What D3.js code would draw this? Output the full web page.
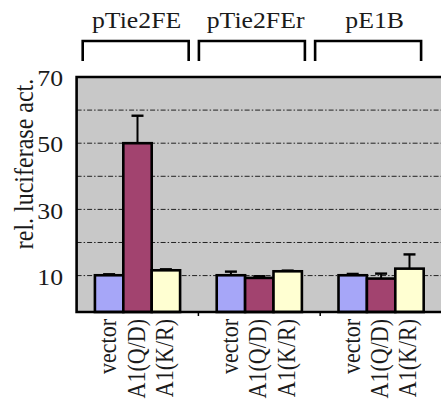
<!DOCTYPE html>
<html><head><meta charset="utf-8">
<script src="https://cdn.jsdelivr.net/npm/d3@7"></script>
<style>body{margin:0;background:#fff}svg{display:block}</style>
</head><body>
<script>
// ---- data ----
const groups = ["pTie2FE", "pTie2FEr", "pE1B"];
const conditions = ["vector", "A1(Q/D)", "A1(K/R)"];
const values = [[10.1, 50.0, 11.6], [10.1, 9.3, 11.3], [10.1, 9.1, 12.1]];
const errors = [[0.3, 8.3, 0.3], [1.1, 0.5, 0.2], [0.4, 1.5, 4.3]];
const yTicks = [10, 30, 50, 70];
const gridValues = [10, 20, 30, 40, 50, 60];
const colors = ["#a6a6f8", "#a2436f", "#ffffd2"];
const yTitle = "rel. luciferase act.";

// ---- layout ----
const W = 441, H = 414;
const plot = {left: 76.6, top: 77, right: 442, bottom: 312};
const SX = 1.12; // horizontal text stretch
const FONT = "'Liberation Serif', Tinos, 'Times New Roman', Times, serif";

const svg = d3.select("body").append("svg").attr("width", W).attr("height", H)
  .attr("font-family", FONT);

const x0 = d3.scaleBand().domain(groups).range([plot.left, plot.right]);
const x1 = d3.scaleBand().domain(conditions).range([0, x0.bandwidth()]).paddingOuter(0.645);
const y = d3.scaleLinear().domain([-1, 70]).range([plot.bottom, plot.top]);
const xb = d3.scaleBand().domain(groups).range([82.7, 421.1]).paddingInner(0.088);

function tx(x, yy, rot) { return `translate(${x},${yy}) scale(${SX},1)` + (rot ? ` rotate(${rot})` : ""); }

// background
svg.append("rect").attr("x", plot.left).attr("y", plot.top)
  .attr("width", plot.right - plot.left + 10).attr("height", plot.bottom - plot.top)
  .attr("fill", "#c8c8c8");

// gridlines
svg.append("g").selectAll("line").data(gridValues).join("line")
  .attr("x1", plot.left).attr("x2", W)
  .attr("y1", d => y(d)).attr("y2", d => y(d))
  .attr("stroke", "#222").attr("stroke-width", 1)
  .attr("stroke-dasharray", "5,2,1.5,2");

// bars
const gs = svg.append("g").selectAll("g").data(groups).join("g")
  .attr("transform", g => `translate(${x0(g)},0)`);
gs.selectAll("rect").data((g, gi) => conditions.map((c, ci) => ({c, ci, v: values[gi][ci], e: errors[gi][ci]})))
  .join("rect")
  .attr("x", d => x1(d.c)).attr("width", x1.bandwidth())
  .attr("y", d => y(d.v)).attr("height", d => y.range()[0] - y(d.v))
  .attr("fill", d => colors[d.ci]).attr("stroke", "#000").attr("stroke-width", 2.6);

// error bars
const eb = gs.selectAll("g.err").data((g, gi) => conditions.map((c, ci) => ({c, ci, v: values[gi][ci], e: errors[gi][ci]})))
  .join("g").attr("class", "err");
eb.append("line")
  .attr("x1", d => x1(d.c) + x1.bandwidth() / 2).attr("x2", d => x1(d.c) + x1.bandwidth() / 2)
  .attr("y1", d => y(d.v)).attr("y2", d => y(d.v + d.e))
  .attr("stroke", "#000").attr("stroke-width", 2);
eb.append("line")
  .attr("x1", d => x1(d.c) + x1.bandwidth() / 2 - 6).attr("x2", d => x1(d.c) + x1.bandwidth() / 2 + 6)
  .attr("y1", d => y(d.v + d.e)).attr("y2", d => y(d.v + d.e))
  .attr("stroke", "#000").attr("stroke-width", 2.4);

// frame
svg.append("path")
  .attr("d", `M${W + 5},${plot.top}H${plot.left}V${plot.bottom}H${W + 5}`)
  .attr("fill", "none").attr("stroke", "#000").attr("stroke-width", 2.6);

// bottom axis ticks at group boundaries
svg.append("g").selectAll("line").data(groups.slice(1)).join("line")
  .attr("x1", g => x0(g)).attr("x2", g => x0(g))
  .attr("y1", plot.bottom).attr("y2", plot.bottom + 4)
  .attr("stroke", "#000").attr("stroke-width", 1.5);

// y tick labels
svg.append("g").selectAll("text").data(yTicks).join("text")
  .attr("transform", d => tx(63, y(d)))
  .attr("dy", "0.4em").attr("text-anchor", "end").attr("fill", "#1a1a1a")
  .attr("font-size", 23).text(d => d);

// y title
svg.append("text").attr("transform", tx(33, 164, -90))
  .attr("text-anchor", "middle").attr("font-size", 24).attr("fill", "#1a1a1a").text(yTitle);

// x labels
gs.selectAll("text").data(conditions).join("text")
  .attr("transform", c => tx(x1(c) + x1.bandwidth() / 2 + 7, 319, -90))
  .attr("text-anchor", "end").attr("font-size", 22).attr("fill", "#1a1a1a").text(c => c);

// brackets
svg.append("g").selectAll("path").data(groups).join("path")
  .attr("d", g => `M${xb(g)},61V41H${xb(g) + xb.bandwidth()}V61`)
  .attr("fill", "none").attr("stroke", "#000").attr("stroke-width", 2.6);

// headers
svg.append("g").selectAll("text").data(groups).join("text")
  .attr("transform", g => {
    const bc = xb(g) + xb.bandwidth() / 2, gc = x0(g) + x0.bandwidth() / 2;
    return tx((bc + gc) / 2, 28);
  })
  .attr("text-anchor", "middle").attr("font-size", 23).attr("fill", "#1a1a1a").text(g => g);
</script>
</body></html>
